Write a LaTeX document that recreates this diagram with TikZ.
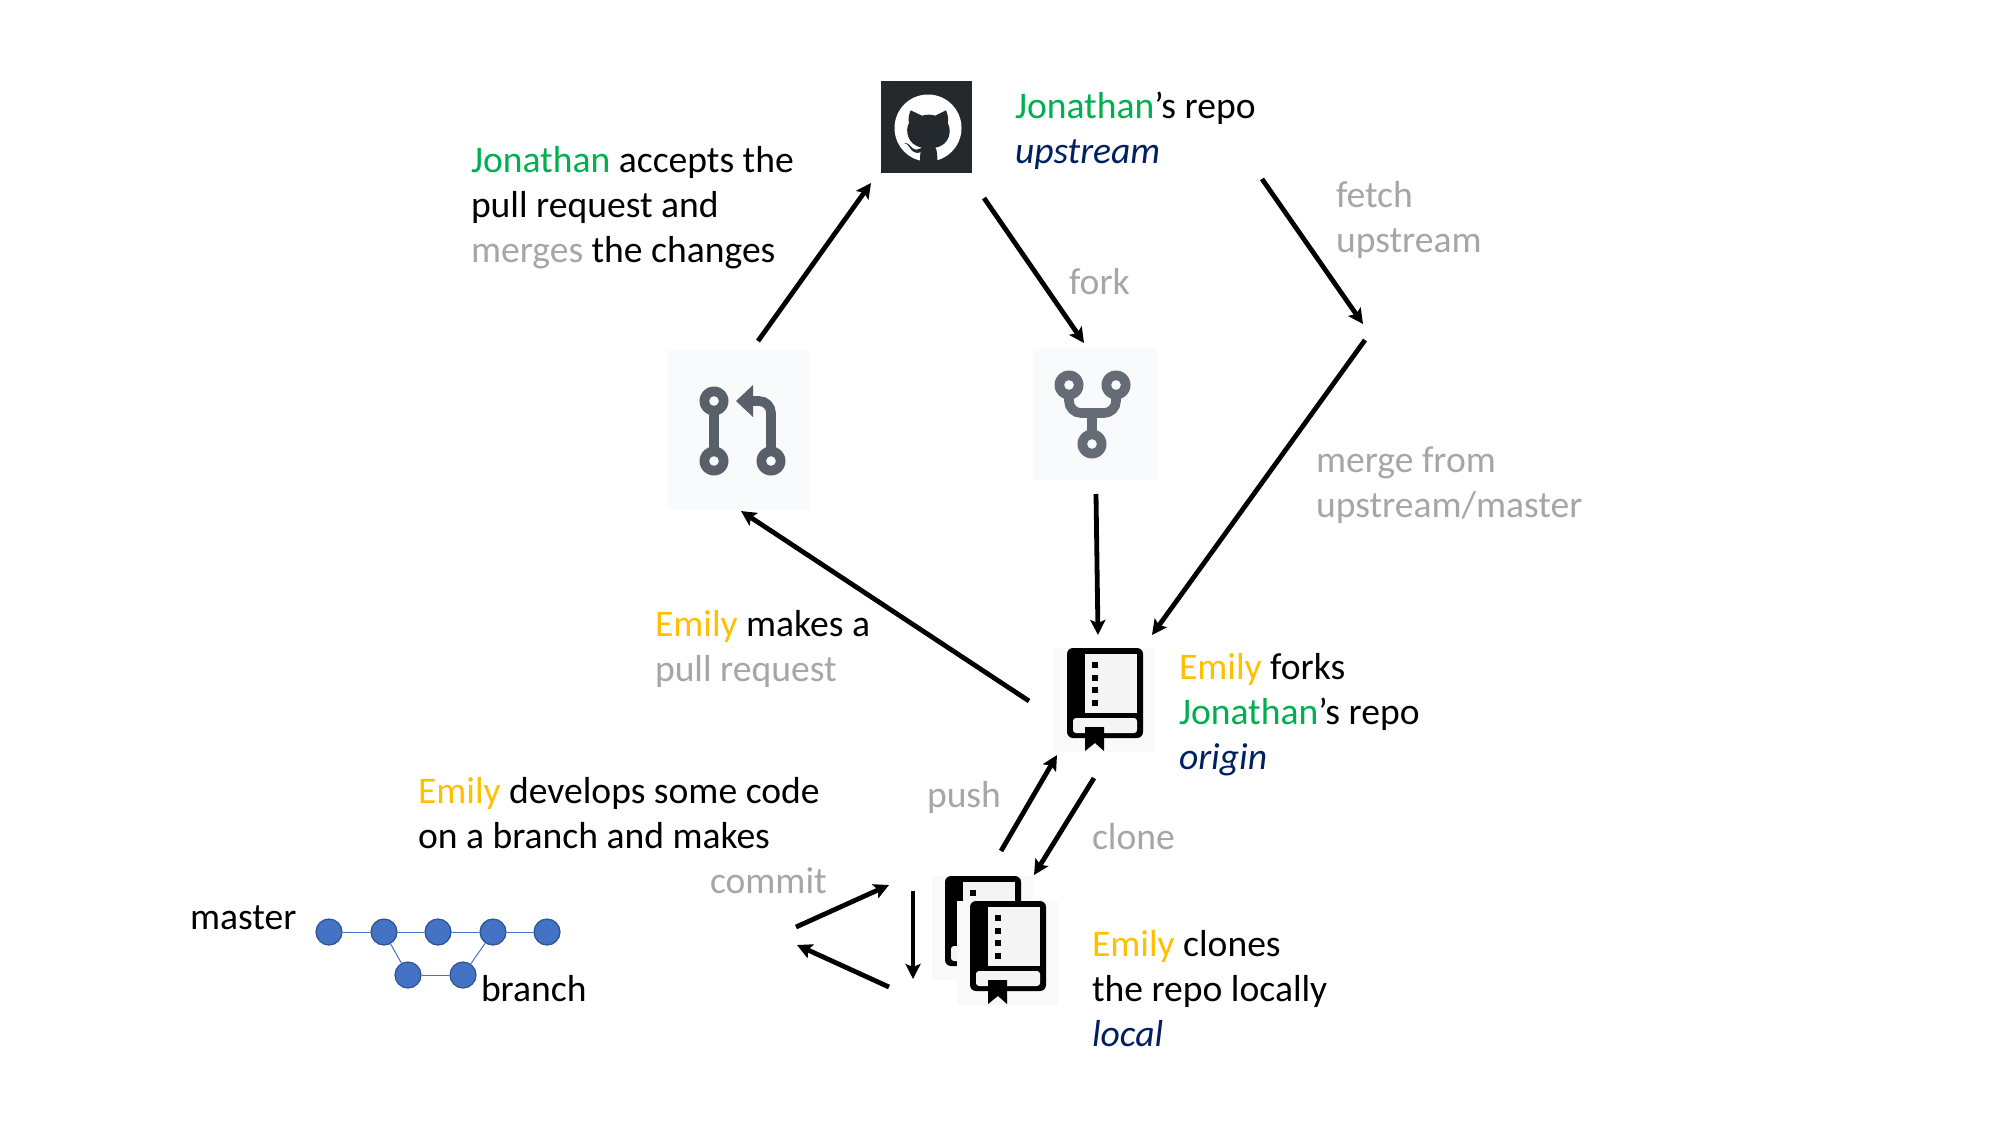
\documentclass[tikz,border=0pt]{standalone}
\usepackage{fontspec}
\setmainfont{Carlito}
\usetikzlibrary{arrows.meta}
\definecolor{cgreen}{HTML}{00B050}
\definecolor{cyellow}{HTML}{FFC000}
\definecolor{cgray}{HTML}{A6A6A6}
\definecolor{cnavy}{HTML}{002060}
\definecolor{ghdark}{HTML}{24292E}
\definecolor{iconpr}{HTML}{596069}
\definecolor{iconfork}{HTML}{656C76}
\definecolor{iconbg}{HTML}{F9FAFC}
\definecolor{bookbg}{HTML}{F9F9F9}
\definecolor{bookpage}{HTML}{F4F4F4}
\definecolor{nodeblue}{HTML}{4472C4}
\definecolor{nodeedge}{HTML}{2F528F}
\newcommand{\jon}{\textcolor{cgreen}{Jonathan}}
\newcommand{\emi}{\textcolor{cyellow}{Emily}}
\newcommand{\gry}[1]{\textcolor{cgray}{#1}}
\newcommand{\nav}[1]{\textcolor{cnavy}{\textit{#1}}}
\newcommand{\lns}[1]{\vtop{#1}}
\newcommand{\tline}[1]{\hbox{#1}}
\tikzset{
  txt/.style={anchor=base west,inner sep=0pt,outer sep=0pt,text=black,font=\fontsize{18.8}{22.7}\selectfont},
  arr/.style={draw=black,line width=2.4pt,-{Stealth[length=7.5pt,width=7.5pt,inset=1.5pt]}},
  commit/.style={circle,fill=nodeblue,draw=nodeedge,line width=0.6pt,minimum size=13pt,inner sep=0pt},
  link/.style={draw=nodeblue,line width=0.5pt},
  iconpic/.style={line width=4.8pt,line cap=butt}
}
\newcommand{\repobook}[2]{%
 \begin{scope}[shift={(#1,#2)}]
  \fill[bookbg] (0,0) rectangle (101,104);
  \fill[black,rounded corners=3pt] (13,0) rectangle (89,90);
  \fill[bookpage] (31,6) rectangle (83,65);
  \fill[bookpage,rounded corners=1.5pt] (19,70) rectangle (83,85);
  \fill[black] (31,79) -- (50,79) -- (50,103) -- (41,95) -- (31,103) -- cycle;
  \foreach \yy in {14,27,39,52}{\fill[black] (38,\yy) rectangle (44,\yy+5.5);}
 \end{scope}}
\begin{document}
\begin{tikzpicture}[x=0.5pt,y=-0.5pt]
\useasboundingbox (0,0) rectangle (2000,1125);
\fill[white] (0,0) rectangle (2000,1125);

% GitHub icon
\fill[ghdark] (881,81) rectangle (972,173);
\fill[white] (928,128) circle[radius=33.5];
\begin{scope}[shift={(860,71)},x=0.16667pt,y=-0.16667pt]
 \fill[ghdark] (152,118) -- (186,134) .. controls (200,130) and (212,130) .. (226,134) -- (258,118)
   .. controls (264,132) and (266,145) .. (263,156)
   .. controls (275,175) and (272,222) .. (226,230)
   .. controls (232,240) and (232,250) .. (232,276) -- (180,276)
   .. controls (180,262) and (180,250) .. (182,244)
   .. controls (165,250) and (155,240) .. (148,228) .. controls (144,222) and (138,216) .. (132,216)
   .. controls (145,215) and (150,224) .. (158,232) .. controls (166,238) and (176,236) .. (182,232)
   .. controls (184,228) and (186,232) .. (186,230)
   .. controls (140,222) and (135,175) .. (147,156)
   .. controls (144,145) and (146,132) .. (152,118) -- cycle;
\end{scope}

% pull request icon
\fill[iconbg] (668,350) rectangle (810,510);
\draw[iconpr,iconpic] (714,401) -- (714,461);
\draw[iconpr,iconpic,rounded corners=6pt] (771,461) -- (771,401) -- (750,401);
\fill[iconpr] (736,401) -- (753,385) -- (753,417) -- cycle;
\foreach \cx/\cy in {714/401,714/461,771/461}{
  \fill[iconpr] (\cx,\cy) circle[radius=14.5];
  \fill[iconbg] (\cx,\cy) circle[radius=4.8];
}

% fork icon
\fill[iconbg] (1033,348) rectangle (1157,480);
\draw[iconfork,iconpic,rounded corners=6pt] (1069,385) -- (1069,413) -- (1116,413) -- (1116,385);
\draw[iconfork,iconpic] (1092,413) -- (1092,444);
\foreach \cx/\cy in {1069/385,1116/385,1092/444}{
  \fill[iconfork] (\cx,\cy) circle[radius=14.5];
  \fill[iconbg] (\cx,\cy) circle[radius=4.8];
}

% repository books
\repobook{1054}{648}
\repobook{932}{876}
\repobook{957}{901}

% arrow end points
\coordinate (prOut) at (758,341);   \coordinate (ghIn) at (871,183);
\coordinate (ghOut) at (984,198);   \coordinate (forkIn) at (1084,343);
\coordinate (fetchA) at (1262,179); \coordinate (fetchB) at (1363,324);
\coordinate (mergeA) at (1365,340); \coordinate (originInR) at (1152,635);
\coordinate (forkOut) at (1096,494);\coordinate (originInL) at (1098,635);
\coordinate (originOut) at (1029,701); \coordinate (prIn) at (741,511);
\coordinate (pushA) at (1001,851);  \coordinate (pushB) at (1057,755);
\coordinate (cloneA) at (1094,778); \coordinate (cloneB) at (1034,875);
\coordinate (devA) at (796,927);    \coordinate (devB) at (889,885);
\coordinate (devC) at (889,987);    \coordinate (devD) at (797,945);
\coordinate (commitA) at (913,891); \coordinate (commitB) at (913,979);

\draw[arr] (prOut) -- (ghIn);
\draw[arr] (ghOut) -- (forkIn);
\draw[arr] (fetchA) -- (fetchB);
\draw[arr] (mergeA) -- (originInR);
\draw[arr] (forkOut) -- (originInL);
\draw[arr] (originOut) -- (prIn);
\draw[arr] (pushA) -- (pushB);
\draw[arr] (cloneA) -- (cloneB);
\draw[arr] (devA) -- (devB);
\draw[arr] (devC) -- (devD);
\draw[arr] (commitA) -- (commitB);

% commit graph
\node[commit] (m1) at (329,932) {};
\node[commit] (m2) at (384,932) {};
\node[commit] (m3) at (438,932) {};
\node[commit] (m4) at (493,932) {};
\node[commit] (m5) at (547,932) {};
\node[commit] (b1) at (408,975) {};
\node[commit] (b2) at (463,975) {};
\draw[link] (m1) -- (m2);
\draw[link] (m2) -- (m3);
\draw[link] (m3) -- (m4);
\draw[link] (m4) -- (m5);
\draw[link] (m2) -- (b1);
\draw[link] (b1) -- (b2);
\draw[link] (b2) -- (m4);

% labels
\node[txt] (tUp) at (1015,118) {\lns{\tline{\jon’s repo}\tline{\nav{upstream}}}};
\node[txt] (tAcc) at (471,172) {\lns{\tline{\jon{} accepts the}\tline{pull request and}\tline{\gry{merges} the changes}}};
\node[txt] (tFetch) at (1336,207) {\lns{\tline{\gry{fetch}}\tline{\gry{upstream}}}};
\node[txt] (tFork) at (1069,294) {\gry{fork}};
\node[txt] (tMerge) at (1316,472) {\lns{\tline{\gry{merge from}}\tline{\gry{upstream/master}}}};
\node[txt] (tPr) at (655,636) {\lns{\tline{\emi{} makes a}\tline{\gry{pull request}}}};
\node[txt] (tOrigin) at (1179,679) {\lns{\tline{\emi{} forks}\tline{\jon’s repo}\tline{\nav{origin}}}};
\node[txt] (tPush) at (927,807) {\gry{push}};
\node[txt] (tClone) at (1092,849) {\gry{clone}};
\node[txt] (tDev) at (418,803) {\lns{\tline{\emi{} develops some code}\tline{on a branch and makes}}};
\node[txt] (tCommit) at (710,893) {\gry{commit}};
\node[txt] (tLocal) at (1092,956) {\lns{\tline{\emi{} clones}\tline{the repo locally}\tline{\nav{local}}}};
\node[txt] (tMaster) at (190,929) {master};
\node[txt] (tBranch) at (481,1001) {branch};
\end{tikzpicture}
\end{document}
